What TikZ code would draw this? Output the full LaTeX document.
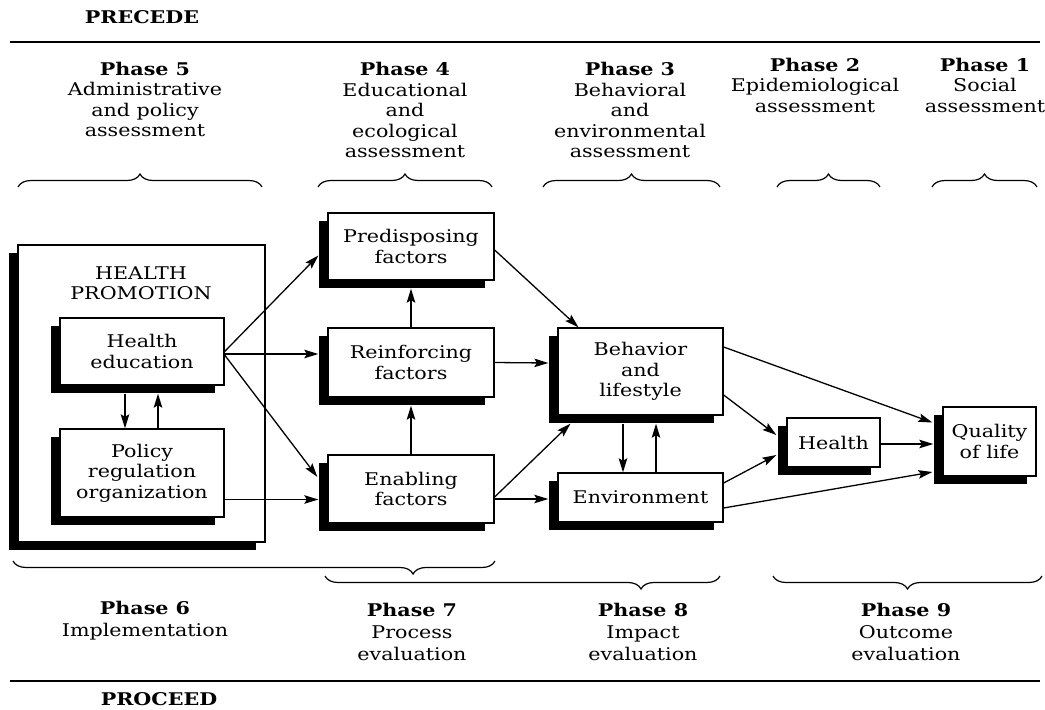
\documentclass[tikz,border=0pt]{standalone}
\usepackage{fontspec}
\setmainfont[FakeStretch=1.18]{DejaVu Serif}
\usetikzlibrary{arrows.meta,shadows,decorations.pathreplacing}
\begin{document}
\begin{tikzpicture}[x=1pt,y=-1pt,
  font=\fontsize{17.5}{20.5}\selectfont,
  box/.style={draw, line width=1.3pt, fill=white, inner sep=0pt, align=center,
    drop shadow={shadow xshift=-9pt, shadow yshift=-8pt, fill=black, opacity=1}},
  arr/.style={line width=1.3pt, -{Stealth[length=14pt,width=8.5pt,inset=2.5pt]}},
  brc/.style={decorate, decoration={brace, amplitude=13pt}, line width=1.2pt},
  brcm/.style={decorate, decoration={brace, amplitude=13pt, mirror}, line width=1.2pt},
  lbl/.style={align=center, inner sep=0pt},
  rule/.style={line width=1.6pt}]
\useasboundingbox (0,0) rectangle (1045,710);

% headings and rules
\node[lbl, font=\fontsize{17.5}{20.5}\selectfont\bfseries] (precede) at (142,17) {PRECEDE};
\node[lbl, font=\fontsize{17.5}{20.5}\selectfont\bfseries] (proceed) at (159,699) {PROCEED};
\coordinate (tl1) at (10,42);  \coordinate (tl2) at (1040,42);
\coordinate (bl1) at (10,681); \coordinate (bl2) at (1040,681);
\draw[rule] (tl1) -- (tl2);
\draw[rule] (bl1) -- (bl2);

% phase headers (top)
\node[lbl] (p5) at (145,99.5) {\textbf{Phase 5}\\Administrative\\and policy\\assessment};
\node[lbl] (p4) at (405,110) {\textbf{Phase 4}\\Educational\\and\\ecological\\assessment};
\node[lbl] (p3) at (630,110) {\textbf{Phase 3}\\Behavioral\\and\\environmental\\assessment};
\node[lbl] (p2) at (815,85) {\textbf{Phase 2}\\Epidemiological\\assessment};
\node[lbl] (p1) at (985,85) {\textbf{Phase 1}\\Social\\assessment};

% top braces
\draw[brc] (18,187) -- (262,187);
\draw[brc] (318,187) -- (492,187);
\draw[brc] (543,187) -- (720,187);
\draw[brc] (777,187) -- (880,187);
\draw[brc] (932,187) -- (1037,187);

% bottom braces
\draw[brcm, decoration={aspect=0.83}] (13,561) -- (495,561);
\draw[brcm, decoration={aspect=0.8}] (325,576) -- (720,576);
\draw[brcm] (773,576) -- (1042,576);

% phase labels (bottom)
\node[lbl, font=\fontsize{17.5}{22}\selectfont] (p6) at (145,621) {\textbf{Phase 6}\\Implementation};
\node[lbl, font=\fontsize{17.5}{22}\selectfont] (p7) at (412,632) {\textbf{Phase 7}\\Process\\evaluation};
\node[lbl, font=\fontsize{17.5}{22}\selectfont] (p8) at (643,632) {\textbf{Phase 8}\\Impact\\evaluation};
\node[lbl, font=\fontsize{17.5}{22}\selectfont] (p9) at (906,632) {\textbf{Phase 9}\\Outcome\\evaluation};

% health promotion block
\node[box, minimum width=247pt, minimum height=297pt] (hp) at (141.5,393.5) {};
\node[lbl] (hplabel) at (141,283) {HEALTH\\PROMOTION};
\node[box, minimum width=164pt, minimum height=67pt] (he) at (142,351.5) {Health\\education};
\node[box, minimum width=164pt, minimum height=88pt] (pol) at (142,473) {Policy\\regulation\\organization};

% factors
\node[box, minimum width=166pt, minimum height=67pt] (pre) at (411,246.5) {Predisposing\\factors};
\node[box, minimum width=166pt, minimum height=69pt] (rei) at (411,362.5) {Reinforcing\\factors};
\node[box, minimum width=166pt, minimum height=68pt] (ena) at (411,489) {Enabling\\factors};

% behaviour / environment
\node[box, minimum width=165pt, minimum height=87pt] (beh) at (640.5,371.5) {Behavior\\and\\lifestyle};
\node[box, minimum width=165pt, minimum height=49pt] (env) at (640.5,497.5) {Environment};

% outcomes
\node[box, minimum width=93pt, minimum height=49pt] (hea) at (833.5,442.5) {Health};
\node[box, minimum width=93pt, minimum height=69pt] (qol) at (989.5,441.5) {Quality\\of life};

% connectors: health promotion
\draw[arr] (he.east) -- ([xshift=-9pt,yshift=-9pt]pre.west);
\draw[arr] ([yshift=-2.5pt]he.east) -- ([xshift=-9pt,yshift=8.5pt]rei.west);
\draw[arr] ([yshift=-3.5pt]he.east) -- ([xshift=-10pt,yshift=12pt]ena.west);
\draw[arr] ([yshift=-26.5pt]pol.east) -- ([xshift=-9pt,yshift=-10.5pt]ena.west);
\draw[arr] ([xshift=-17pt,yshift=-8pt]he.south) -- ([xshift=-17pt]pol.north);
\draw[arr] ([xshift=16pt]pol.north) -- ([xshift=16pt,yshift=-8pt]he.south);

% connectors: factors
\draw[arr] (rei.north) -- ([yshift=-8pt]pre.south);
\draw[arr] (ena.north) -- ([yshift=-8pt]rei.south);
\draw[arr] ([yshift=-3.5pt]pre.east) -- ([xshift=-62pt]beh.north);
\draw[arr] (rei.east) -- ([xshift=-9pt,yshift=8.5pt]beh.west);
\draw[arr] ([yshift=-8pt]ena.east) -- ([xshift=-70pt,yshift=-8pt]beh.south);
\draw[arr] ([yshift=-10pt]ena.east) -- ([xshift=-9pt,yshift=-1.5pt]env.west);

% connectors: behaviour / environment
\draw[arr] ([xshift=-17.5pt,yshift=-8pt]beh.south) -- ([xshift=-17.5pt]env.north);
\draw[arr] ([xshift=15.5pt]env.north) -- ([xshift=15.5pt,yshift=-8pt]beh.south);
\draw[arr] ([yshift=24.5pt]beh.east) -- ([xshift=-10pt,yshift=19pt]qol.west);
\draw[arr] ([yshift=-23.5pt]beh.east) -- ([xshift=-10pt,yshift=7.5pt]hea.west);
\draw[arr] ([yshift=14.5pt]env.east) -- ([xshift=-10pt,yshift=-12.5pt]hea.west);
\draw[arr] ([yshift=-10.5pt]env.east) -- ([xshift=-10pt,yshift=-30.5pt]qol.west);
\draw[arr] ([yshift=-1.5pt]hea.east) -- ([xshift=-9pt,yshift=-2.5pt]qol.west);
\end{tikzpicture}
\end{document}
